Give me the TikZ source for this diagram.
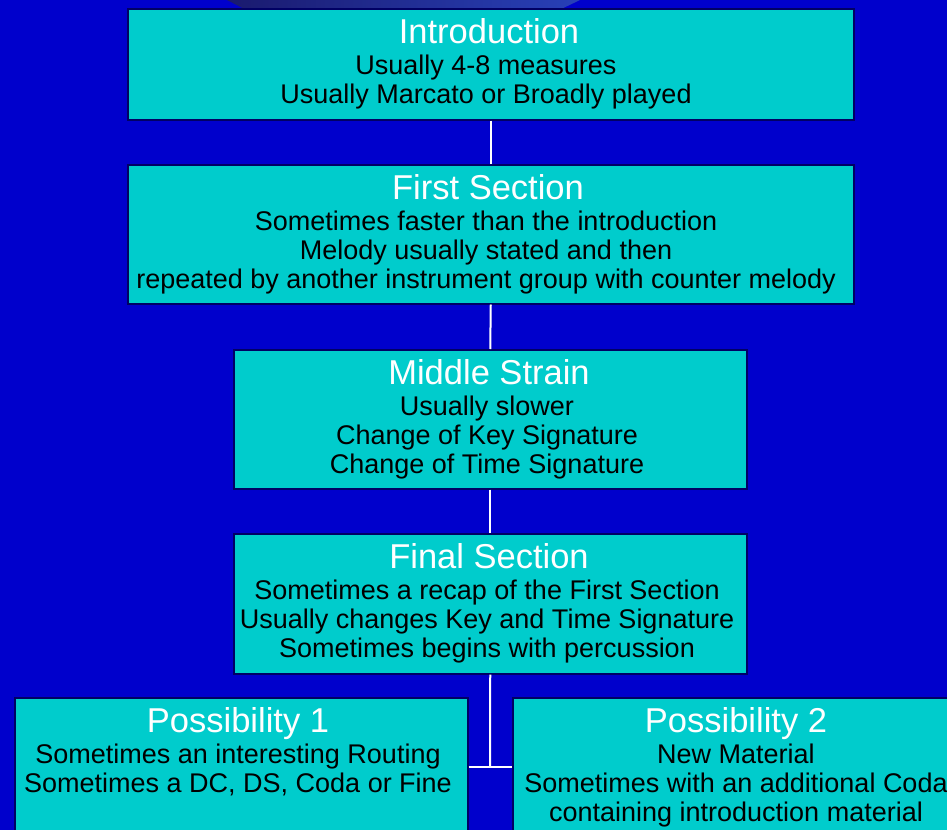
\documentclass[tikz,border=0pt]{standalone}
\usepackage{fontspec}
\setmainfont{Liberation Sans}
\definecolor{bg}{RGB}{0,0,204}
\definecolor{boxfill}{RGB}{0,204,204}
\definecolor{boxline}{RGB}{0,0,100}
\definecolor{shadeL}{RGB}{26,26,110}
\definecolor{shadeR}{RGB}{40,64,184}
\begin{document}
\begin{tikzpicture}[x=1bp,y=-1bp,
  box/.style={draw=boxline, line width=1.5bp, fill=boxfill, inner sep=0, anchor=north west},
  ttl/.style={text=white, font=\fontsize{34.5bp}{36bp}\selectfont, anchor=base, inner sep=0},
  body/.style={text=black, font=\fontsize{27bp}{29.3bp}\selectfont, align=center, anchor=north, inner sep=0},
  link/.style={draw=white, line width=2bp}]
\fill[bg] (0,0) rectangle (947,830);
\useasboundingbox (0,0) rectangle (947,830);
\shade[left color=shadeL, right color=shadeR] (227,0) -- (580,0) -- (555,12) -- (250,12) -- cycle;
% boxes
\node[box, minimum width=726bp, minimum height=111bp] (intro) at (127,8) {};
\node[box, minimum width=726bp, minimum height=139bp] (first) at (127,164) {};
\node[box, minimum width=513bp, minimum height=139bp] (middle) at (233,349) {};
\node[box, minimum width=513bp, minimum height=140bp] (final) at (233,533) {};
\node[box, minimum width=453bp, minimum height=160bp] (p1) at (14,697) {};
\node[box, minimum width=448bp, minimum height=160bp] (p2) at (512,697) {};
% connectors
\coordinate (j) at (490,767);
\draw[link] (intro.south) -- (first.north);
\draw[link] (first.south) -- (middle.north);
\draw[link] (middle.south) -- (final.north);
\draw[link] (final.south) -- (j);
\draw[link] (p1.east |- j) -- (p2.west |- j);
% texts
\node[ttl] (introT) at (489,43) {Introduction};
\node[body] (introB) at (486,54.5) {Usually 4-8 measures\\Usually Marcato or Broadly played};
\node[ttl] (firstT) at (488,199) {First Section};
\node[body] (firstB) at (486,210.5) {Sometimes faster than the introduction\\Melody usually stated and then\\repeated by another instrument group with counter melody};
\node[ttl] (middleT) at (489,384) {Middle Strain};
\node[body] (middleB) at (487,395.5) {Usually slower\\Change of Key Signature\\Change of Time Signature};
\node[ttl] (finalT) at (489,568) {Final Section};
\node[body] (finalB) at (487,579.5) {Sometimes a recap of the First Section\\Usually changes Key and Time Signature\\Sometimes begins with percussion};
\node[ttl] (p1T) at (238,732) {Possibility 1};
\node[body] (p1B) at (238,743.5) {Sometimes an interesting Routing\\Sometimes a DC, DS, Coda or Fine};
\node[ttl] (p2T) at (736,732) {Possibility 2};
\node[body] (p2B) at (736,743.5) {New Material\\Sometimes with an additional Coda\\containing introduction material};
\end{tikzpicture}
\end{document}
